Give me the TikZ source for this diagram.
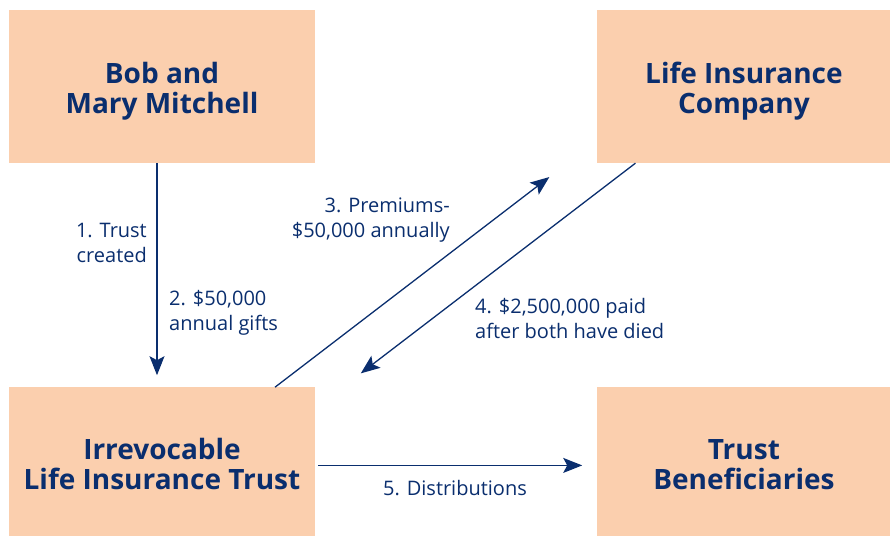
\documentclass[tikz,border=0pt]{standalone}
\usepackage{fontspec}
\setmainfont{Open Sans}
\usetikzlibrary{positioning, arrows.meta}
\definecolor{navy}{RGB}{10,46,110}
\definecolor{peach}{RGB}{251,207,174}
\newcommand{\toprow}{\rule{0pt}{30pt}}
\newcommand{\lowrow}{\rule{0pt}{24.5pt}}

\begin{document}
\begin{tikzpicture}[x=1pt,y=-1pt,>={Stealth[length=19pt,width=15pt,inset=4pt]},node distance=224pt and 282pt]
                \tikzset{box/.style={fill=peach,draw=none,text=navy,align=center,inner sep=0pt,
                        font=\fontsize{28}{30}\selectfont\bfseries},
                    lbl/.style={text=navy,inner sep=0pt,font=\fontsize{20}{25}\selectfont},
                    flow/.style={->,draw=navy,line width=1.3pt}}
                \useasboundingbox (0,0) rectangle (890,536);
                \node[box, minimum width=306pt, minimum height=153pt] (bob) at (162,86.5) {\toprow Bob and\\Mary Mitchell};
                \node[box, minimum width=293pt, minimum height=153pt] (ins)[right=of bob] {\toprow Life Insurance\\Company};
                \node[box, minimum width=306pt, minimum height=149pt] (ilit)[below=of bob] {\lowrow Irrevocable\\Life Insurance Trust};
                \node[box, minimum width=293pt, minimum height=149pt] (ben)[right=of ilit] {\lowrow Trust\\Beneficiaries};

                \node[lbl, align=right, anchor=east]   (l1) at (147,243) {1. Trust\\created};
                \node[lbl, align=left, anchor=west]    (l2) at (169,313) {2. \$50,000\\annual gifts};
                \node[lbl, align=right, anchor=east]   (l3) at (450,220.5) {3. Premiums-\\\$50,000 annually};
                \node[lbl, align=left, anchor=west]    (l4) at (475,318.5) {4. \$2,500,000 paid\\after both have died};
                \node[lbl, anchor=base]                (l5) at (455,495)   {5. Distributions};

                \draw[flow, shorten >=12pt] ([xshift=-5pt]bob.south) -- ([xshift=-5pt]ilit.north);
                \draw[flow, shorten >=22.8pt] ([xshift=113pt]ilit.north) -- ([xshift=-176.5pt]ins.south);
                \draw[flow, shorten >=22.8pt] ([xshift=-108.5pt]ins.south) -- ([xshift=180.7pt]ilit.north);
                \draw[flow, shorten <=3pt, shorten >=15pt] ([yshift=-3.5pt]ilit.east) -- ([yshift=-3.5pt]ben.west);
            \end{tikzpicture}
\end{document}
